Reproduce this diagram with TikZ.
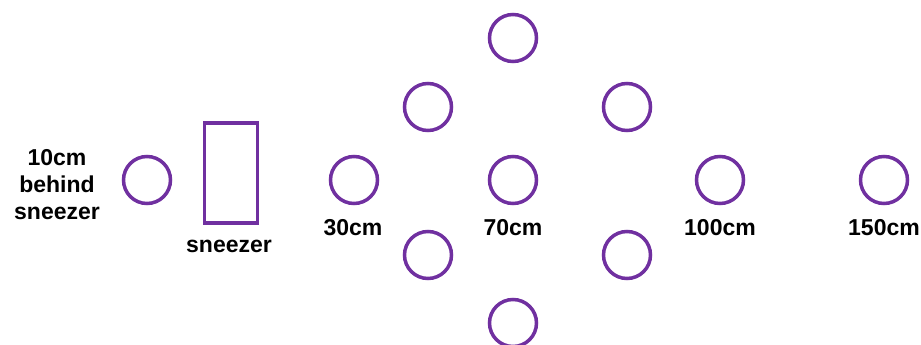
\documentclass[tikz,border=0pt]{standalone}
\usepackage{fontspec}
\setmainfont{Liberation Sans}
\definecolor{ringpurple}{HTML}{7030A0}
\begin{document}
\begin{tikzpicture}[x=1pt,y=-1pt,
  ring/.style={circle,draw=ringpurple,line width=3.5pt,minimum size=47pt,inner sep=0pt},
  box/.style={rectangle,draw=ringpurple,line width=3.5pt,minimum width=53pt,minimum height=100pt,inner sep=0pt},
  lbl/.style={font=\fontsize{23}{27}\selectfont\bfseries,inner sep=0pt,anchor=base}]
\useasboundingbox (0,0) rectangle (921,345);
\node[ring] (c10) at (147,180) {};
\node[box] (snz) at (231,173) {};
\node[ring] (c30) at (354,180) {};
\node[ring] (t) at (513,38) {};
\node[ring] (ul) at (428,107) {};
\node[ring] (ur) at (627,107) {};
\node[ring] (c70) at (513,180) {};
\node[ring] (ll) at (428,255) {};
\node[ring] (lr) at (627,255) {};
\node[ring] (b) at (513,323) {};
\node[ring] (c100) at (720,180) {};
\node[ring] (c150) at (884,180) {};
\node[font=\fontsize{23}{27}\selectfont\bfseries,inner sep=0pt,align=center] (l10) at (57,185) {10cm\\behind\\sneezer};
\node[lbl] (lsnz) at (229,252) {sneezer};
\node[lbl] (l30) at (353,235) {30cm};
\node[lbl] (l70) at (513,235) {70cm};
\node[lbl] (l100) at (720,235) {100cm};
\node[lbl] (l150) at (884,235) {150cm};
\end{tikzpicture}
\end{document}
